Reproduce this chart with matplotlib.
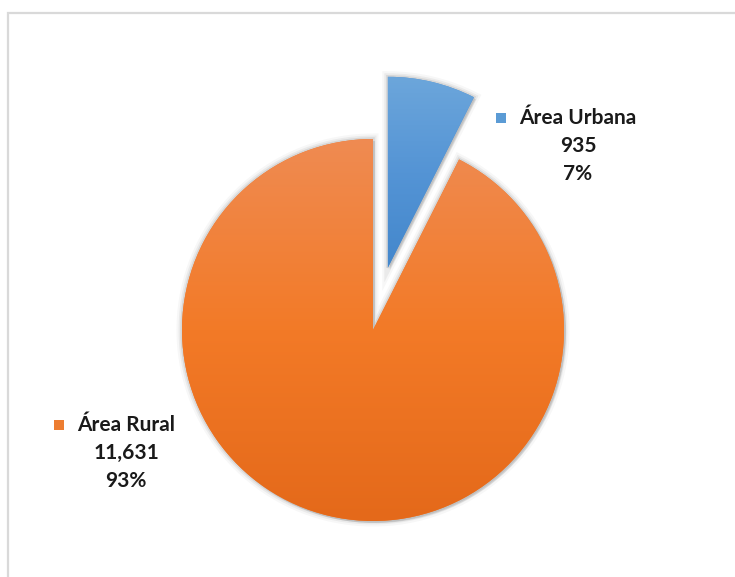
import numpy as np
import matplotlib
matplotlib.use("Agg")
import matplotlib.pyplot as plt
from matplotlib.colors import LinearSegmentedColormap
from matplotlib.patches import Rectangle
import matplotlib.patheffects as pe

# data
categories = ["Área Urbana", "Área Rural"]
counts = [935, 11631]
explode = [0.335, 0.0]

# gradient colours per slice (top -> middle -> bottom) and marker colour
grad_colors = [("#6CA6DB", "#5494D5", "#4387CC"),
               ("#EF8B52", "#F37A27", "#E4691A")]
marker_colors = ["#5B9BD5", "#ED7D31"]

W, H = 735, 577
fig = plt.figure(figsize=(W / 100, H / 100), dpi=100)
ax = fig.add_axes([0, 0, 1, 1])

wedges, _ = ax.pie(counts, explode=explode, startangle=90, counterclock=False,
                   radius=1.0, colors=[c[1] for c in grad_colors])

glow = [pe.SimplePatchShadow(offset=(1.5, -1.5), shadow_rgbFace="#000000", alpha=0.10),
        pe.Stroke(linewidth=8, foreground="#000000", alpha=0.03),
        pe.Stroke(linewidth=5, foreground="#000000", alpha=0.05),
        pe.Stroke(linewidth=2.5, foreground="#000000", alpha=0.08),
        pe.Normal()]

grad = np.linspace(0, 1, 256).reshape(-1, 1)
for w, stops in zip(wedges, grad_colors):
    w.set_linewidth(0)
    w.set_path_effects(glow)
    bb = w.get_path().get_extents()
    cmap = LinearSegmentedColormap.from_list("g", list(stops))
    im = ax.imshow(grad, cmap=cmap, origin="upper", aspect="auto",
                   extent=(bb.x0, bb.x1, bb.y0, bb.y1), zorder=3)
    im.set_clip_path(w)

# pixel layout: pie centre at (373, 330), radius 191 px
scale = 191.0
cx, cy = 373.0, 330.0
ax.set_xlim(-cx / scale, (W - cx) / scale)
ax.set_ylim(-(H - cy) / scale, cy / scale)
ax.set_aspect("auto")
ax.axis("off")

# outer chart border
fig.add_artist(Rectangle((8 / W, -0.05), 1.2, 1 - 12.5 / H + 0.05,
                         transform=fig.transFigure, fill=False,
                         edgecolor="#D9D9D9", linewidth=1.6))

# data labels
total = sum(counts)
label_pos = [(578, 118), (126, 425)]
font = dict(family=["Lato", "DejaVu Sans"], weight="bold", fontsize=15,
            color="#1A1A1A", ha="center", va="center")
r = fig.canvas.get_renderer()
for name, val, (lx, ly), mc in zip(categories, counts, label_pos, marker_colors):
    pct = round(val / total * 100)
    t = fig.text(lx / W, 1 - ly / H, name, **font)
    fig.text(lx / W, 1 - (ly + 28) / H, f"{val:,}", **font)
    fig.text(lx / W, 1 - (ly + 56) / H, f"{pct}%", **font)
    bb = t.get_window_extent(renderer=r)
    sq = 10
    fig.add_artist(Rectangle(((bb.x0 - 23) / W, (H - ly - sq / 2) / H), sq / W, sq / H,
                             transform=fig.transFigure, facecolor=mc, edgecolor="none"))

fig.savefig("out.png", dpi=100)
